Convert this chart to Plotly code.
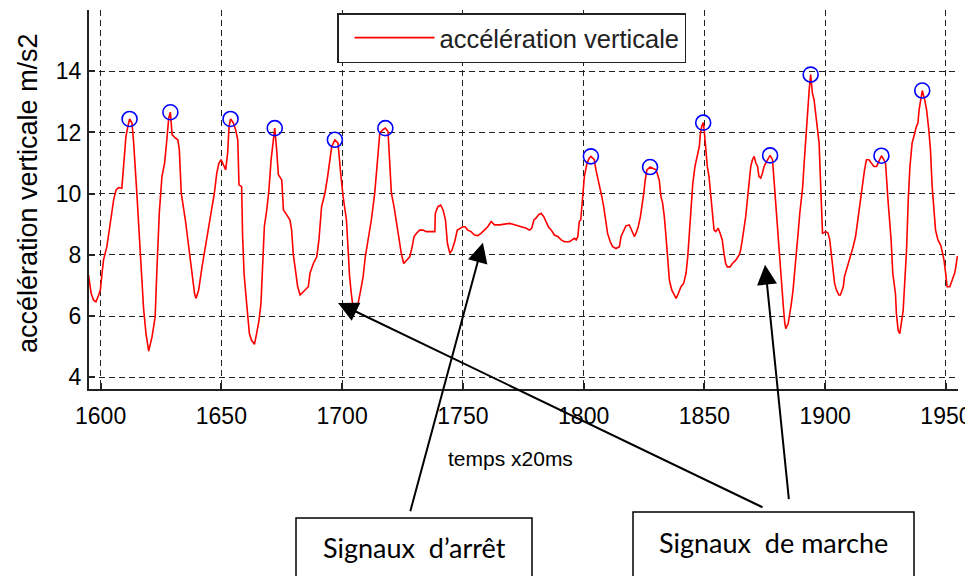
import plotly.graph_objects as go

# ---- data (temps x20ms, accélération m/s2) ----
marche_1 = [
    (1595.0, 7.34), (1596.1, 6.74), (1597.1, 6.52), (1598.1, 6.47), (1599.2, 6.69), (1599.9, 6.85),
    (1600.6, 7.40), (1601.2, 7.83), (1602.6, 8.27), (1604.0, 9.03), (1605.4, 9.80), (1606.4, 10.12),
    (1607.5, 10.20), (1608.8, 10.18), (1609.5, 10.89), (1610.5, 11.87), (1611.3, 12.20), (1612.0, 12.44),
    (1613.0, 12.31), (1613.7, 11.65), (1615.0, 10.02), (1616.0, 8.60), (1617.1, 7.40), (1617.8, 6.25),
    (1618.8, 5.43), (1619.9, 4.86), (1621.3, 5.32), (1622.6, 5.98), (1623.3, 7.50), (1624.3, 9.36),
    (1625.4, 10.56), (1626.5, 11.00), (1627.5, 11.82), (1628.2, 12.47), (1628.9, 12.66), (1629.6, 11.93),
    (1630.9, 11.82), (1632.0, 11.76), (1632.6, 11.43), (1633.4, 10.02), (1635.1, 9.14), (1636.5, 8.27),
    (1637.8, 7.40), (1638.9, 6.74), (1639.5, 6.58), (1640.6, 6.85), (1642.0, 7.61), (1643.4, 8.27),
    (1644.7, 8.92), (1647.1, 10.02), (1648.1, 10.67), (1649.0, 11.00), (1649.9, 11.11), (1650.8, 10.94),
    (1651.8, 10.78), (1652.6, 11.33), (1653.2, 12.20), (1653.8, 12.44), (1655.0, 12.31), (1655.9, 12.09),
    (1656.8, 11.76), (1657.3, 10.29), (1658.4, 10.23), (1658.8, 8.60), (1659.4, 7.40), (1660.1, 6.74),
    (1660.9, 6.09), (1661.6, 5.43), (1662.5, 5.21), (1663.7, 5.08), (1664.6, 5.43), (1665.6, 5.87),
    (1666.4, 6.41), (1667.0, 7.72), (1667.8, 8.92), (1668.8, 9.47), (1669.7, 10.12), (1670.6, 11.11),
    (1671.1, 11.49), (1671.5, 11.76), (1672.1, 12.14), (1672.9, 11.43), (1673.6, 10.62), (1675.0, 10.45),
    (1675.7, 9.47), (1677.1, 9.31), (1678.4, 9.14), (1679.1, 8.81), (1679.8, 8.00), (1680.5, 7.61),
    (1681.6, 6.96), (1682.6, 6.69), (1684.0, 6.79), (1686.0, 6.96), (1686.7, 7.40), (1688.1, 7.72),
    (1689.5, 7.94), (1690.4, 8.49), (1691.5, 9.58), (1692.9, 10.02), (1694.0, 10.56), (1695.0, 11.22),
    (1695.7, 11.54), (1697.0, 11.76), (1698.3, 11.65), (1699.4, 10.67), (1700.4, 9.91), (1701.8, 9.14),
    (1702.5, 8.05), (1703.1, 7.29), (1703.8, 6.74), (1704.5, 6.30), (1705.2, 6.19), (1706.6, 6.41),
    (1707.7, 6.85), (1708.7, 7.29), (1709.6, 7.94), (1710.7, 8.49), (1712.1, 9.14), (1713.5, 10.02),
    (1714.2, 10.78), (1714.9, 11.43), (1715.6, 11.98), (1716.9, 12.09), (1717.9, 12.14), (1719.0, 12.03),
    (1719.7, 10.78), (1720.4, 10.02), (1721.5, 9.58), (1722.5, 9.03), (1723.4, 8.49), (1724.5, 8.05),
    (1725.5, 7.72),
]

arret = [
    (1726.6, 7.83), (1728.0, 7.94), (1729.0, 8.27), (1729.8, 8.60), (1730.8, 8.71), (1732.1, 8.81),
    (1733.5, 8.81), (1734.9, 8.76), (1737.0, 8.76), (1738.4, 8.76), (1738.6, 9.36), (1739.7, 9.58),
    (1740.8, 9.63), (1741.8, 9.47), (1742.8, 9.14), (1743.6, 8.38), (1744.6, 8.05), (1745.5, 8.16),
    (1746.6, 8.43), (1747.7, 8.81), (1750.0, 8.92), (1750.9, 8.92), (1752.0, 8.81), (1753.4, 8.76),
    (1754.8, 8.65), (1756.2, 8.63), (1757.6, 8.71), (1758.9, 8.81), (1760.3, 8.92), (1761.7, 9.09),
    (1763.1, 8.98), (1765.2, 8.98), (1767.2, 9.00), (1769.3, 9.03), (1770.7, 9.00), (1772.7, 8.96),
    (1774.8, 8.92), (1776.2, 8.87), (1777.6, 8.81), (1778.5, 8.87), (1779.4, 9.14), (1780.3, 9.20),
    (1781.3, 9.31), (1782.4, 9.36), (1783.5, 9.25), (1784.5, 9.09), (1785.4, 8.92), (1786.6, 8.81),
    (1787.9, 8.65), (1789.3, 8.60), (1790.7, 8.49), (1792.1, 8.43), (1794.1, 8.43), (1796.2, 8.54),
    (1796.9, 8.49), (1797.6, 8.60), (1798.2, 9.09), (1798.8, 9.14),
]

marche_2 = [
    (1799.6, 10.02), (1800.3, 10.56), (1801.4, 11.00), (1802.3, 11.16), (1803.0, 11.22), (1804.4, 11.11),
    (1805.1, 10.78), (1806.1, 10.45), (1806.9, 10.12), (1807.5, 9.91), (1808.3, 9.58), (1808.8, 9.25),
    (1809.9, 8.71), (1811.0, 8.43), (1812.0, 8.27), (1813.4, 8.21), (1814.8, 8.27), (1815.5, 8.60),
    (1816.6, 8.81), (1817.5, 8.95), (1818.9, 8.98), (1819.9, 8.81), (1821.0, 8.60), (1821.7, 8.71),
    (1822.6, 8.92), (1823.5, 9.25), (1824.2, 9.58), (1824.9, 10.02), (1825.5, 10.45), (1826.2, 10.78),
    (1827.5, 10.87), (1828.6, 10.83), (1830.0, 10.78), (1831.3, 10.45), (1832.0, 9.91), (1832.7, 9.69),
    (1833.4, 9.25), (1834.1, 8.60), (1834.8, 7.83), (1835.5, 7.18), (1836.5, 6.85), (1837.6, 6.69),
    (1838.3, 6.58), (1839.2, 6.74), (1840.3, 6.96), (1841.4, 7.07), (1842.4, 7.40), (1843.1, 7.94),
    (1843.8, 8.81), (1844.5, 9.47), (1845.2, 10.34), (1846.1, 10.89), (1847.0, 11.22), (1847.9, 11.54),
    (1848.3, 11.93), (1848.9, 12.20), (1849.5, 12.32), (1849.9, 12.09), (1850.5, 11.54), (1851.2, 10.89),
    (1851.9, 10.56), (1852.6, 10.02), (1853.3, 9.58), (1854.0, 8.81), (1854.7, 8.76), (1855.7, 8.87),
    (1856.5, 8.71), (1857.4, 8.49), (1858.1, 8.05), (1858.8, 7.72), (1859.5, 7.61), (1860.6, 7.61),
    (1861.6, 7.72), (1863.0, 7.83), (1864.4, 8.00), (1865.0, 8.16), (1865.7, 8.49), (1866.4, 8.81),
    (1867.1, 9.25), (1867.8, 9.80), (1868.5, 10.34), (1869.2, 10.89), (1869.9, 11.11), (1870.6, 11.22),
    (1871.3, 11.00), (1872.0, 10.89), (1872.6, 10.56), (1873.3, 10.51), (1874.0, 10.67), (1874.7, 10.89),
    (1875.4, 11.00), (1876.1, 11.11), (1877.2, 11.25), (1878.2, 11.11), (1878.9, 10.34), (1879.6, 9.47),
    (1880.2, 8.71), (1880.9, 8.05), (1881.6, 7.40), (1882.3, 6.74), (1882.7, 6.30), (1883.3, 5.76),
    (1883.7, 5.59), (1884.7, 5.76), (1885.5, 6.09), (1886.0, 6.41), (1886.7, 6.85), (1887.4, 7.40),
    (1888.1, 7.94), (1888.8, 8.71), (1889.5, 9.36), (1890.2, 9.80), (1890.7, 10.23), (1891.3, 11.00),
    (1892.0, 11.87), (1892.7, 12.74), (1893.4, 13.40), (1894.0, 13.89), (1894.7, 13.29), (1895.4, 13.07),
    (1896.1, 12.64), (1896.8, 12.20), (1897.5, 11.65), (1897.9, 10.78), (1898.5, 9.69), (1898.9, 8.71),
    (1900.3, 8.76), (1901.2, 8.71), (1901.9, 8.49), (1902.5, 8.05), (1903.3, 7.61), (1903.9, 7.07),
    (1904.7, 6.85), (1905.7, 6.69), (1906.3, 6.69), (1907.5, 6.96), (1908.0, 7.29), (1908.8, 7.50),
    (1909.8, 7.83), (1910.8, 8.05), (1911.6, 8.27), (1912.6, 8.60), (1913.3, 9.03), (1913.9, 9.47),
    (1914.6, 9.80), (1915.3, 10.34), (1916.3, 10.78), (1917.1, 11.11), (1918.1, 11.11), (1919.1, 11.00),
    (1920.2, 10.89), (1921.3, 10.89), (1922.2, 11.05), (1923.3, 11.24), (1924.3, 11.11), (1925.0, 11.00),
    (1926.0, 9.80), (1926.7, 9.14), (1927.3, 8.49), (1928.0, 7.40), (1929.1, 6.74), (1929.5, 6.09),
    (1930.2, 5.54), (1930.9, 5.43), (1931.6, 5.87), (1932.3, 6.19), (1933.0, 7.18), (1933.7, 8.16),
    (1934.4, 9.80), (1935.1, 10.89), (1936.0, 11.65), (1936.7, 11.82), (1937.1, 11.98), (1937.8, 12.20),
    (1938.4, 12.31), (1938.9, 12.74), (1939.5, 13.07), (1940.2, 13.37), (1941.2, 13.07), (1942.0, 12.74),
    (1942.9, 12.09), (1943.6, 11.43), (1944.3, 10.23), (1945.0, 9.47), (1945.7, 8.81), (1946.7, 8.49),
    (1947.8, 8.32), (1948.5, 8.10), (1949.2, 7.83), (1949.9, 7.40), (1950.5, 6.96), (1951.6, 6.96),
    (1952.6, 7.18), (1953.6, 7.40), (1954.1, 7.61), (1954.7, 7.94), (1955.4, 7.96),
]

pics_temps = [1612.0, 1628.9, 1653.8, 1672.1, 1697.0, 1717.9, 1803.0, 1827.5, 1849.5, 1877.2, 1894.0, 1923.3, 1940.2]
pics_acc = [12.44, 12.66, 12.44, 12.14, 11.76, 12.14, 11.22, 10.87, 12.32, 11.25, 13.89, 11.24, 13.37]

x_ticks = [1600, 1650, 1700, 1750, 1800, 1850, 1900, 1950]
y_ticks = [4, 6, 8, 10, 12, 14]

serie_nom = "accélération verticale"
x_titre = "temps x20ms"
y_titre = "accélération verticale m/s2"
label_arret = "Signaux\u00a0 d’arrêt"
label_marche = "Signaux\u00a0 de marche"

signal = marche_1 + arret + marche_2
temps = [p[0] for p in signal]
acc = [p[1] for p in signal]

FONT = "Liberation Sans, Arial, sans-serif"

fig = go.Figure()
fig.add_trace(go.Scatter(
    x=temps, y=acc, mode="lines", name=serie_nom,
    line=dict(color="#ff0000", width=1.6),
))
fig.add_trace(go.Scatter(
    x=pics_temps, y=pics_acc, mode="markers", showlegend=False,
    marker=dict(symbol="circle-open", size=15, color="#0000ff", line=dict(width=1.6, color="#0000ff")),
))

# page body has an 8px offset; work in screen pixels of the 973x576 window
OFF = 8
PL, PR, PT, PB = 89, 958, 10, 389          # plot area in screen pixels
W, H = 973 - OFF, 576 - OFF
L, T = PL - OFF, PT - OFF
R, B = W - (PR - OFF), H - (PB - OFF)
pw, ph = PR - PL, PB - PT

def px(xs):
    return (xs - PL) / pw

def py(ys):
    return (PB - ys) / ph

axis_common = dict(
    showline=True, linecolor="#222222", linewidth=2, mirror=False,
    ticks="inside", ticklen=6, tickwidth=1.5, tickcolor="#222222",
    showgrid=True, gridcolor="#222222", gridwidth=1.2, griddash="6px,4px",
    zeroline=False, tickfont=dict(family=FONT, size=23, color="#000000"),
)

fig.update_layout(
    width=W, height=H,
    margin=dict(l=L, r=R, t=T, b=B, pad=0, autoexpand=False),
    paper_bgcolor="white", plot_bgcolor="white",
    xaxis=dict(range=[1595.2, 1955], tickvals=x_ticks, ticklabelstandoff=5, **axis_common),
    yaxis=dict(range=[3.62, 16], tickvals=y_ticks, ticklabelstandoff=1, **axis_common),
    showlegend=True,
    legend=dict(
        x=px(337), y=py(13), xanchor="left", yanchor="top",
        bgcolor="white", bordercolor="#222222", borderwidth=1.5,
        font=dict(family=FONT, size=25.5, color="#222222"), itemwidth=80, indentation=11,
    ),
)

# axis titles
fig.add_annotation(text=x_titre, xref="paper", yref="paper", x=px(510), y=py(458),
                   xanchor="center", yanchor="middle", showarrow=False,
                   font=dict(family=FONT, size=21, color="#000"))
fig.add_annotation(text=y_titre, xref="paper", yref="paper", x=px(28), y=py(193),
                   xanchor="center", yanchor="middle", textangle=-90, showarrow=False,
                   font=dict(family=FONT, size=27, color="#000"))

# label boxes
boxes = [
    dict(x0=296, x1=532, y0=518, y1=590, text=label_arret, ty=547),
    dict(x0=633, x1=914, y0=512, y1=590, text=label_marche, ty=542),
]
for b in boxes:
    fig.add_shape(type="rect", xref="paper", yref="paper",
                  x0=px(b["x0"]), x1=px(b["x1"]), y0=py(b["y1"]), y1=py(b["y0"]),
                  line=dict(color="black", width=1.5), fillcolor="white", layer="above")
    fig.add_annotation(text=b["text"], xref="paper", yref="paper",
                       x=px((b["x0"] + b["x1"]) / 2), y=py(b["ty"]),
                       xanchor="center", yanchor="middle", showarrow=False,
                       font=dict(family="Lato, " + FONT, size=27, color="#000"))

# arrows: tip in data coords, tail offset in pixels
arrows = [
    dict(t=1758.3, v=8.40, ax=-73, ay=270),
    dict(t=1698.3, v=6.43, ax=426, ay=205),
    dict(t=1875.1, v=7.68, ax=24, ay=236),
]
for a in arrows:
    fig.add_annotation(x=a["t"], y=a["v"], xref="x", yref="y", ax=a["ax"], ay=a["ay"],
                       text="", showarrow=True, arrowhead=2, arrowsize=2.0, arrowwidth=2,
                       arrowcolor="black", standoff=0)

fig.write_html("out.html")
